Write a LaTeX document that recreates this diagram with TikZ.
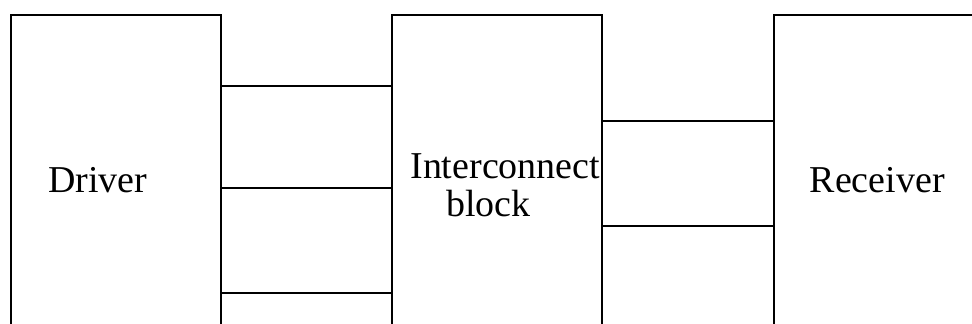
\documentclass[tikz,border=0pt]{standalone}
\usepackage{fontspec}
\setmainfont{Liberation Serif}
\begin{document}
\begin{tikzpicture}[scale=1.0, line width=0.9pt,
    blockbox/.style={draw, rectangle, minimum width=3.5cm, minimum height=5.75cm, inner sep=0pt},
    blocktext/.style={font=\fontsize{18}{23}\selectfont, align=left, inner sep=0pt}]
  \clip (0,0) rectangle (16.2,5.4);
  % the three blocks, cut off at the lower edge
  \node[blockbox] (driver) at (1.933,2.275) {};
  \node[blockbox] (ic) at (8.283,2.275) {};
  \node[blockbox, minimum width=4cm] (recv) at (14.9,2.275) {};
  
  \node[blocktext] (drvlabel) at (1.63,2.4) {Driver};
  \node[blocktext] (iclabel) at (8.42,2.63) {Interconnect};
  \node[blocktext] (blklabel) at (8.14,2.0) {block};
  \node[blocktext] (rcvlabel) at (14.62,2.4) {Receiver};
  
  % wires between the blocks
  \coordinate (w1) at (0,3.967);
  \coordinate (w2) at (0,2.267);
  \coordinate (w3) at (0,0.517);
  \coordinate (w4) at (0,3.383);
  \coordinate (w5) at (0,1.633);
  \draw (driver.east |- w1) -- (ic.west |- w1);
  \draw (driver.east |- w2) -- (ic.west |- w2);
  \draw (driver.east |- w3) -- (ic.west |- w3);
  \draw (ic.east |- w4) -- (recv.west |- w4);
  \draw (ic.east |- w5) -- (recv.west |- w5);
\end{tikzpicture}
\end{document}
